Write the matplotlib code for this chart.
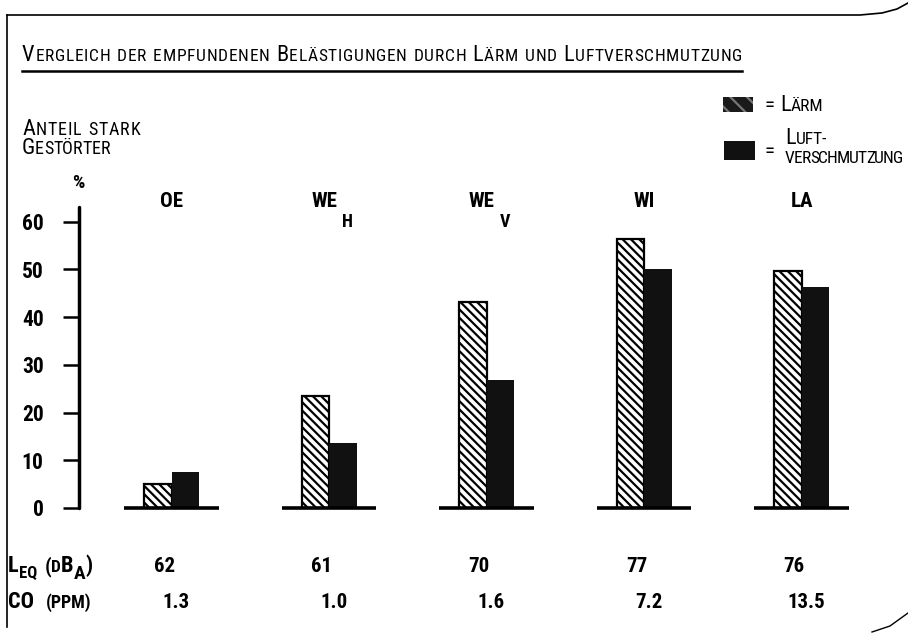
import numpy as np
import matplotlib
matplotlib.use("Agg")
import matplotlib.pyplot as plt
from matplotlib.patches import Rectangle
from matplotlib.lines import Line2D

plt.rcParams["font.family"] = ["Roboto Condensed", "Liberation Sans Narrow", "Liberation Sans", "DejaVu Sans"]
plt.rcParams["hatch.linewidth"] = 1.6

# daten
groups = ["OE", "WE", "WE", "WI", "LA"]
group_sub = ["", "H", "V", "", ""]
laerm = [5.0, 23.4, 43.2, 56.4, 49.6]   # Anteil stark gestoerter, Laerm (%)
luft = [7.6, 13.6, 26.9, 50.1, 46.3]    # Anteil stark gestoerter, Luftverschmutzung (%)
leq = ["62", "61", "70", "77", "76"]
co = ["1.3", "1.0", "1.6", "7.2", "13.5"]
yticks = [0, 10, 20, 30, 40, 50, 60]

W, H = 908, 633
fig = plt.figure(figsize=(9.08, 6.33), dpi=100)
renderer = fig.canvas.get_renderer()


def fx(x):
    return x / W


def fy(y):
    return 1 - y / H


def chain(x, y, parts, end=None, **kw):
    # texte nebeneinander setzen (Kapitaelchen / Indizes), optional auf Breite sperren
    items = []
    pos = x
    for s, size, dy in parts:
        if s == " ":
            pos += size * 100 / 72 * 0.3
            items.append((None, pos))
            continue
        t = fig.text(fx(pos), fy(y + dy), s, fontsize=size, va="baseline", ha="left", **kw)
        items.append((t, pos))
        pos += t.get_window_extent(renderer).width
    if end is not None and len(items) > 1:
        extra = (end - pos) / (len(items) - 1)
        for k, (t, p) in enumerate(items):
            if t is not None:
                t.set_x(fx(p + k * extra))
    return pos


def smallcaps(s, big, small):
    parts = []
    for ch in s:
        if ch == " ":
            parts.append((" ", small, 0))
        elif ch.isupper():
            parts.append((ch, big, 0))
        else:
            parts.append((ch.upper(), small, 0))
    return parts


# achse
ax = fig.add_axes([fx(79), fy(508), fx(880.35 - 79), (508 - 207) / H])
ax.set_xlim(-0.588, 4.5)
ax.set_ylim(0, 63.1)
for s in ["top", "right", "bottom"]:
    ax.spines[s].set_visible(False)
ax.spines["left"].set_linewidth(2.5)
ax.spines["left"].set_capstyle("round")
ax.set_xticks([])
ax.set_yticks(yticks)
ax.tick_params(axis="y", direction="out", length=11.5, width=1.8, pad=14, labelsize=15.5)
for lab in ax.get_yticklabels():
    lab.set_fontweight("bold")
ax.patch.set_alpha(0)

idx = np.arange(len(groups))
bw = 0.175
ax.bar(idx - bw / 2, laerm, bw, facecolor="white", edgecolor="black",
       hatch="\\\\\\\\", linewidth=1.6, zorder=2)
ax.bar(idx + bw / 2, luft, bw, color="#111111", zorder=2)
ax.hlines(np.zeros(len(idx)), idx - 0.3, idx + 0.3, color="black", lw=2.6, zorder=3, clip_on=False)

for i in idx:
    if group_sub[i]:
        ax.text(i - 0.032, 64.2, groups[i], ha="center", va="center", fontsize=15, fontweight="bold")
        ax.text(i + 0.114, 60.0, group_sub[i], ha="center", va="center", fontsize=13, fontweight="bold")
    else:
        ax.text(i, 64.2, groups[i], ha="center", va="center", fontsize=15, fontweight="bold")
    ax.text(i - 0.047, -13.4, leq[i], ha="center", va="baseline", fontsize=15, fontweight="bold")
    ax.text(i + 0.03, -21.0, co[i], ha="center", va="baseline", fontsize=15, fontweight="bold")

# titel
chain(22, 61, smallcaps("Vergleich der empfundenen Belästigungen durch Lärm und Luftverschmutzung", 16, 12.5),
      end=742)
fig.add_artist(Line2D([fx(22), fx(742)], [fy(71), fy(71)], color="black", lw=1.8))

# y-beschriftung
chain(22, 135, smallcaps("Anteil stark", 16, 13), end=140)
chain(22, 154, smallcaps("Gestörter", 16, 13), end=110)
fig.text(fx(78), fy(183), "%", fontsize=14, ha="center", va="center", fontweight="bold")

# legende
fig.add_artist(Rectangle((fx(723), fy(112)), 30 / W, 15 / H, transform=fig.transFigure,
                         facecolor="#1a1a1a", edgecolor="#777777", hatch="\\\\", linewidth=0))
fig.add_artist(Rectangle((fx(724), fy(160)), 31 / W, 19 / H, transform=fig.transFigure,
                         facecolor="#111111", linewidth=0))
chain(765, 111, [("=", 15, 0), (" ", 12, 0), ("L", 16, 0), ("ÄRM", 12.5, 0)])
fig.text(fx(765), fy(151), "=", fontsize=15, va="center", ha="left")
chain(785, 144, [("L", 16, 0), ("UFT-", 12.5, 0)])
chain(785, 163, [(c, 12.5, 0) for c in "VERSCHMUTZUNG"], end=903)

# untere zeilen
chain(8, 572, [("L", 16, 0), ("EQ", 12, 6), (" ", 18, 0), ("(", 15, 0), ("D", 12.5, 0), ("B", 16, 0),
               ("A", 14, 7), (")", 16, 0)], fontweight="bold")
chain(8, 608, [("CO", 16, 0), (" ", 28, 0), ("(PPM)", 13, 0)], fontweight="bold")

# rahmen
fig.add_artist(Line2D([fx(7), fx(860), fx(882), fx(897), fx(908)],
                      [fy(15), fy(15), fy(13), fy(9), fy(3)], color="black", lw=1.2))
fig.add_artist(Line2D([fx(7), fx(7)], [fy(15), fy(627)], color="black", lw=1.2))
fig.add_artist(Line2D([fx(872), fx(890), fx(908)], [fy(632), fy(626), fy(613)], color="black", lw=1.0))

fig.savefig("out.png", dpi=100)
